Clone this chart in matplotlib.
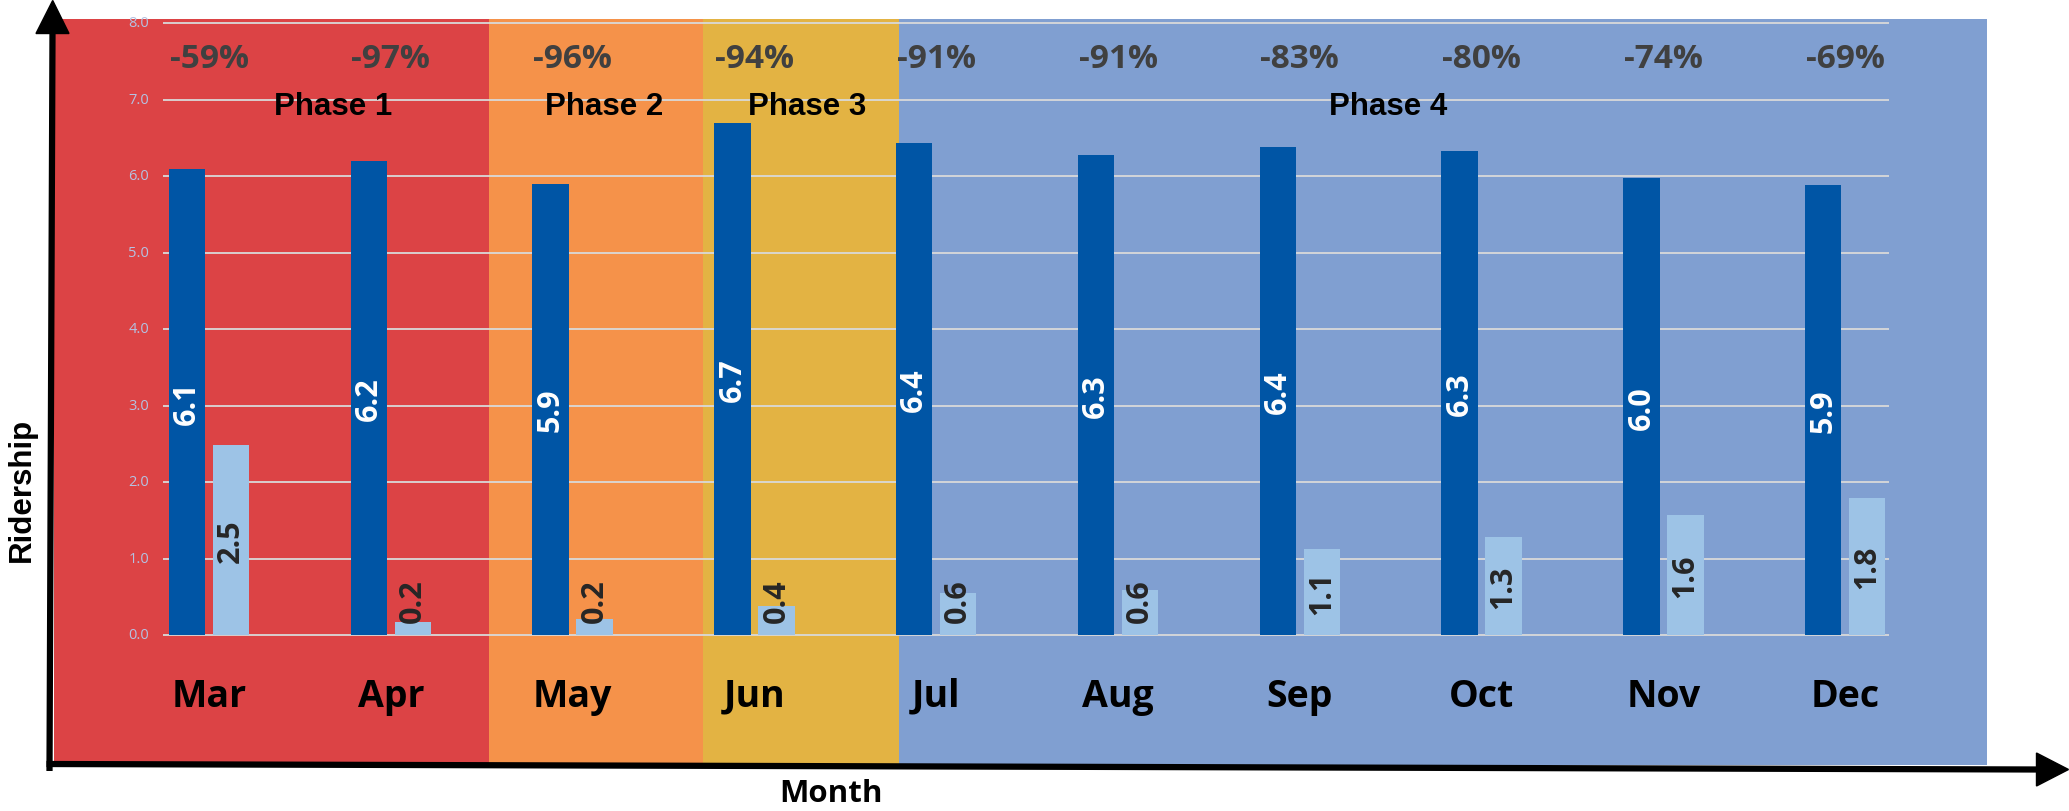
import matplotlib
matplotlib.use("Agg")
import matplotlib.pyplot as plt
from matplotlib.patches import Polygon

# data (millions of riders)
months = ["Mar", "Apr", "May", "Jun", "Jul", "Aug", "Sep", "Oct", "Nov", "Dec"]
rides_2019 = [6.09, 6.19, 5.90, 6.69, 6.43, 6.28, 6.38, 6.33, 5.97, 5.88]
rides_2020 = [2.48, 0.17, 0.21, 0.38, 0.55, 0.59, 1.12, 1.28, 1.57, 1.79]
pct_change = ["-59%", "-97%", "-96%", "-94%", "-91%", "-91%", "-83%", "-80%", "-74%", "-69%"]
phases = ["Phase 1", "Phase 2", "Phase 3", "Phase 4"]
phase_bounds = [1.54, 2.717, 3.795]   # month-index borders between phases
phase_label_x = [0.683, 2.172, 3.29, 6.485]
phase_colors = ["#DC4345", "#F5924A", "#E3B343", "#809FD1"]
yticks = [0, 1, 2, 3, 4, 5, 6, 7, 8]

W, H = 2069, 812
fig = plt.figure(figsize=(W / 100, H / 100), dpi=100)

# pixel geometry of the plot area
left, right, top, bottom = 53.5, 1987, 20, 766
x0, dx = 209.0, 181.8     # pixel of month 0, pixels per month
y0, dy = 636.0, 76.5      # pixel of value 0, pixels per unit

ax = fig.add_axes([left / W, (H - bottom) / H, (right - left) / W, (bottom - top) / H])
ax.set_xlim((left - x0) / dx, (right - x0) / dx)
ax.set_ylim((y0 - bottom) / dy, (y0 - top) / dy)
ax.axis("off")

# phase backgrounds
edges = [ax.get_xlim()[0]] + phase_bounds + [ax.get_xlim()[1]]
for i, c in enumerate(phase_colors):
    ax.axvspan(edges[i], edges[i + 1], color=c, lw=0, zorder=0)

# gridlines + tick labels
gx0, gx1 = (163 - x0) / dx, (1889 - x0) / dx
ax.hlines(yticks, gx0, gx1, color="#D9D9D9", lw=1.3, zorder=1)
for t in yticks:
    ax.text(gx0 - 0.075, t, f"{t:.1f}", ha="right", va="center",
            fontsize=10.5, color="#B4C2E2", family="Open Sans")

xs = list(range(len(months)))
bw = 0.2
off = 0.121
ax.bar([x - off for x in xs], rides_2019, width=bw, color="#0055A5", zorder=2)
ax.bar([x + off for x in xs], rides_2020, width=bw, color="#9DC3E6", zorder=2)

for i in xs:
    ax.text(i - off, rides_2019[i] / 2, f"{rides_2019[i]:.1f}", rotation=90,
            ha="center", va="center", color="white", fontsize=22,
            fontweight="bold", family="Open Sans", zorder=3)
    ax.text(i + off, max(rides_2020[i] / 2, 0.46), f"{rides_2020[i]:.1f}", rotation=90,
            ha="center", va="center", color="#262626", fontsize=22,
            fontweight="bold", family="Open Sans", zorder=3)
    ax.text(i, -0.924, months[i], ha="center", va="baseline", fontsize=27,
            fontweight="bold", family="Open Sans", color="black")
    ax.text(i, 7.421, pct_change[i], ha="center", va="baseline", fontsize=24,
            fontweight="bold", family="Open Sans", color="#404040")

for name, px in zip(phases, phase_label_x):
    ax.text(px, 6.81, name, ha="center", va="baseline", fontsize=22.5,
            fontweight="bold", family="Liberation Sans", color="black")

# hand-drawn style axis arrows on a pixel overlay
ov = fig.add_axes([0, 0, 1, 1])
ov.set_xlim(0, W)
ov.set_ylim(H, 0)
ov.axis("off")
ov.plot([49.5, 52.5], [772, 33], color="black", lw=4.5, solid_capstyle="butt")
ov.add_patch(Polygon([[52.7, 1.5], [36, 34.5], [69, 34.5]], closed=True, color="black"))
ov.plot([46.5, 2038], [765, 770.5], color="black", lw=4.5, solid_capstyle="butt")
ov.add_patch(Polygon([[2068.5, 770.5], [2036.5, 754], [2036.5, 787]], closed=True, color="black"))

fig.text(22 / W, 1 - 489.5 / H, "Ridership", rotation=90, ha="center", va="center",
         fontsize=22.5, fontweight="bold", family="Liberation Sans")
fig.text(831 / W, 1 - 794 / H, "Month", ha="center", va="center",
         fontsize=22.5, fontweight="bold", family="Open Sans")

fig.savefig("out.png", dpi=100)
